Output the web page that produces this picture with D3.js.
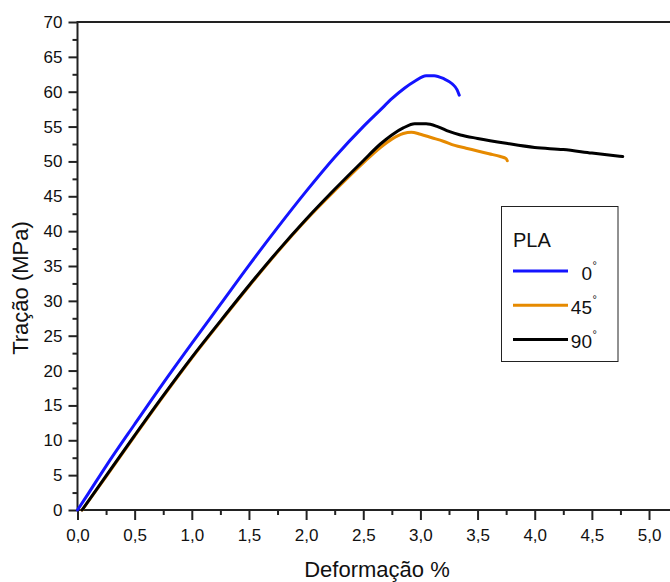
<!DOCTYPE html>
<html>
<head>
<meta charset="utf-8">
<script src="https://cdn.jsdelivr.net/npm/d3@7"></script>
<style>
  body { margin: 0; background: #fff; }
  svg { display: block; font-family: "Liberation Sans", Arial, sans-serif; }
</style>
</head>
<body>
<svg id="chart"></svg>
<script>
const width = 670;
const height = 582;

// PLA 0 graus
const x0 = [0.00, 0.10, 0.25, 0.50, 0.75, 1.00, 1.25, 1.50, 1.75, 2.00, 2.25, 2.50, 2.65, 2.75, 2.86, 2.95, 3.05, 3.12, 3.20, 3.28, 3.32, 3.34];
const y0 = [0.0, 2.5, 6.3, 12.3, 18.2, 23.9, 29.5, 35.1, 40.5, 45.7, 50.6, 55.0, 57.4, 59.0, 60.5, 61.5, 62.3, 62.3, 61.9, 61.1, 60.3, 59.5];

// PLA 45 graus
const x45 = [0.04, 0.25, 0.50, 0.75, 1.00, 1.25, 1.50, 1.75, 2.00, 2.25, 2.50, 2.65, 2.75, 2.85, 2.92, 3.00, 3.10, 3.20, 3.30, 3.40, 3.50, 3.60, 3.70, 3.75, 3.76];
const y45 = [0.0, 4.8, 10.6, 16.3, 21.8, 27.0, 32.1, 37.0, 41.6, 45.8, 49.8, 52.0, 53.2, 54.0, 54.2, 53.9, 53.4, 52.9, 52.3, 51.9, 51.5, 51.1, 50.7, 50.4, 50.1];

// PLA 90 graus
const x90 = [0.04, 0.25, 0.50, 0.75, 1.00, 1.25, 1.50, 1.75, 2.00, 2.25, 2.50, 2.65, 2.75, 2.85, 2.95, 3.05, 3.15, 3.25, 3.35, 3.50, 3.75, 4.00, 4.25, 4.50, 4.77];
const y90 = [0.0, 4.9, 10.7, 16.4, 21.9, 27.1, 32.2, 37.1, 41.7, 46.0, 50.1, 52.5, 53.8, 54.8, 55.4, 55.4, 55.0, 54.3, 53.8, 53.3, 52.6, 52.0, 51.7, 51.2, 50.7];

const seriesNames = ["0", "45", "90"];
const seriesColors = ["#1414ff", "#e68a00", "#000000"];

const xTicks = [0, 0.5, 1.0, 1.5, 2.0, 2.5, 3.0, 3.5, 4.0, 4.5, 5.0];
const yTicks = [0, 5, 10, 15, 20, 25, 30, 35, 40, 45, 50, 55, 60, 65, 70];

const series = [
  { name: seriesNames[0], color: seriesColors[0], values: x0.map((x, i) => ({ x: x, y: y0[i] })) },
  { name: seriesNames[1], color: seriesColors[1], values: x45.map((x, i) => ({ x: x, y: y45[i] })) },
  { name: seriesNames[2], color: seriesColors[2], values: x90.map((x, i) => ({ x: x, y: y90[i] })) }
];

const svg = d3.select("#chart")
  .attr("width", width)
  .attr("height", height);

const xScale = d3.scaleLinear().domain([0, 5.25]).range([77.5, 677.6]);
const yScale = d3.scaleLinear().domain([0, 70]).range([510, 22]);

const fmt = d => d3.format(".1f")(d).replace(".", ",");

// frame (right side falls outside the picture)
svg.append("rect")
  .attr("x", xScale(0))
  .attr("y", yScale(70))
  .attr("width", xScale(5.25) - xScale(0))
  .attr("height", yScale(0) - yScale(70))
  .attr("fill", "none")
  .attr("stroke", "#222")
  .attr("stroke-width", 2);

// x axis
svg.append("g")
  .attr("transform", `translate(0,${yScale(0)})`)
  .call(d3.axisBottom(xScale).tickValues(xTicks).tickSize(10).tickPadding(9).tickFormat(fmt));
svg.append("g")
  .attr("transform", `translate(0,${yScale(0)})`)
  .call(d3.axisBottom(xScale).tickValues(d3.range(0.25, 5.25, 0.5)).tickSize(5).tickFormat(""));

// y axis
svg.append("g")
  .attr("transform", `translate(${xScale(0)},0)`)
  .call(d3.axisLeft(yScale).tickValues(yTicks).tickSize(9).tickPadding(6));
svg.append("g")
  .attr("transform", `translate(${xScale(0)},0)`)
  .call(d3.axisLeft(yScale).tickValues(d3.range(2.5, 70, 5)).tickSize(5).tickFormat(""));

svg.selectAll(".domain").remove();
svg.selectAll(".tick line").attr("stroke", "#222").attr("stroke-width", 2);
svg.selectAll(".tick text")
  .attr("fill", "#111")
  .style("font-size", "17px")
  .style("font-family", "'Liberation Sans', Arial, sans-serif");

// axis titles
svg.append("text")
  .attr("x", 377)
  .attr("y", 577)
  .attr("text-anchor", "middle")
  .style("font-size", "22px")
  .attr("fill", "#111")
  .text("Deformação %");

svg.append("text")
  .attr("transform", "translate(28,288) rotate(-90)")
  .attr("text-anchor", "middle")
  .style("font-size", "22px")
  .attr("fill", "#111")
  .text("Tração (MPa)");

// curves
const line = d3.line()
  .x(d => xScale(d.x))
  .y(d => yScale(d.y))
  .curve(d3.curveMonotoneX);

svg.selectAll(".curve")
  .data(series)
  .enter()
  .append("path")
  .attr("class", "curve")
  .attr("fill", "none")
  .attr("stroke", d => d.color)
  .attr("stroke-width", 3)
  .attr("stroke-linejoin", "round")
  .attr("stroke-linecap", "round")
  .attr("d", d => line(d.values));

// legend
const legend = svg.append("g");
legend.append("rect")
  .attr("x", 501.5)
  .attr("y", 206.5)
  .attr("width", 116.5)
  .attr("height", 155)
  .attr("fill", "#fff")
  .attr("stroke", "#222")
  .attr("stroke-width", 1);

legend.append("text")
  .attr("x", 513)
  .attr("y", 247)
  .style("font-size", "20px")
  .attr("fill", "#111")
  .text("PLA");

const rows = legend.selectAll(".leg-row")
  .data(series)
  .enter()
  .append("g")
  .attr("class", "leg-row")
  .attr("transform", (d, i) => `translate(0,${271 + i * 34.3})`);

rows.append("line")
  .attr("x1", 513)
  .attr("x2", 568)
  .attr("stroke", d => d.color)
  .attr("stroke-width", 3);

rows.append("text")
  .attr("x", 592)
  .attr("y", 8.5)
  .attr("text-anchor", "end")
  .style("font-size", "19px")
  .attr("fill", "#111")
  .text(d => d.name);

rows.append("text")
  .attr("x", 592.5)
  .attr("y", -2)
  .style("font-size", "11px")
  .attr("fill", "#111")
  .text("°");
</script>
</body>
</html>
